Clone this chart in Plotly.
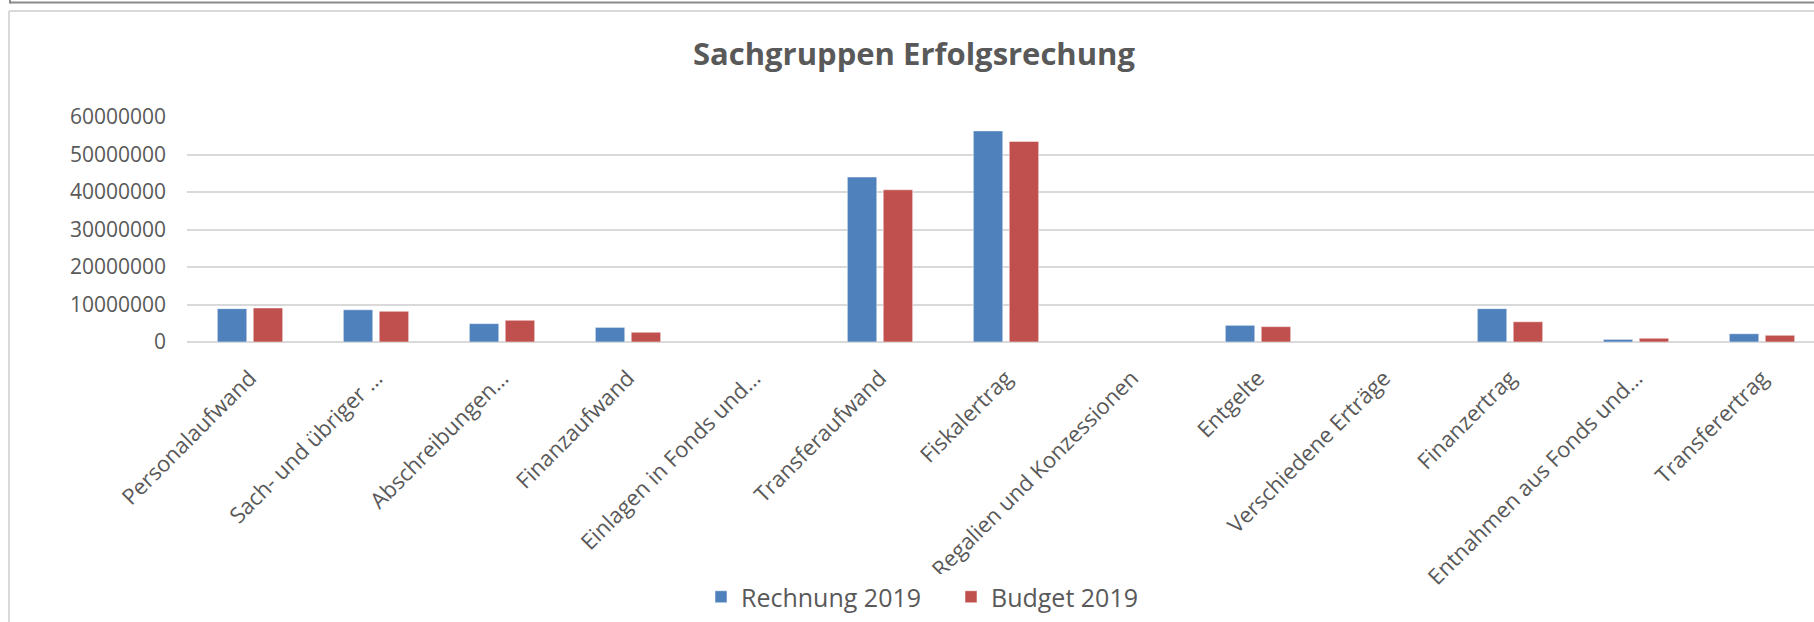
import plotly.graph_objects as go

categories = ["Personalaufwand", "Sach- und übriger …", "Abschreibungen…", "Finanzaufwand",
              "Einlagen in Fonds und…", "Transferaufwand", "Fiskalertrag",
              "Regalien und Konzessionen", "Entgelte", "Verschiedene Erträge",
              "Finanzertrag", "Entnahmen aus Fonds und…", "Transferertrag"]
rechnung_2019 = [8.9e6, 8.6e6, 4.9e6, 3.9e6, None, 44.0e6, 56.3e6, None, 4.45e6, None, 8.9e6, 0.7e6, 2.2e6]
budget_2019 = [9.07e6, 8.2e6, 5.8e6, 2.6e6, None, 40.6e6, 53.5e6, None, 4.1e6, None, 5.4e6, 1.0e6, 1.8e6]
y_ticks = [0, 10000000, 20000000, 30000000, 40000000, 50000000, 60000000]
series_names = ["Rechnung 2019", "Budget 2019"]

W, H = 1814, 622
L, T, B = 187, 117, 280
PW = W - L
PH = H - T - B

def px_x(p):
    return (p - L) / PW

def px_y(p):
    return (H - B - p) / PH

TXT = "#595959"
FONT = "Open Sans"

fig = go.Figure()
fig.add_trace(go.Bar(x=list(range(len(categories))), y=rechnung_2019, name=series_names[0],
                     marker=dict(color="#4F81BD", line=dict(color="rgba(255,255,255,0.5)", width=1))))
fig.add_trace(go.Bar(x=list(range(len(categories))), y=budget_2019, name=series_names[1],
                     marker=dict(color="#C0504D", line=dict(color="rgba(255,255,255,0.5)", width=1))))

cat_w = 126.0
x_max = -0.5 + PW / cat_w

shapes = [
    dict(type="line", xref="paper", yref="paper", x0=px_x(9), x1=px_x(9), y0=px_y(11), y1=px_y(630),
         line=dict(color="#d9d9d9", width=2)),
    dict(type="line", xref="paper", yref="paper", x0=px_x(9), x1=px_x(1820), y0=px_y(11), y1=px_y(11),
         line=dict(color="#d9d9d9", width=2)),
    dict(type="line", xref="paper", yref="paper", x0=px_x(10), x1=px_x(1820), y0=px_y(2.5), y1=px_y(2.5),
         line=dict(color="#8a8a8a", width=2)),
    dict(type="line", xref="paper", yref="paper", x0=px_x(10), x1=px_x(10), y0=px_y(-2), y1=px_y(3.5),
         line=dict(color="#8a8a8a", width=2)),
]

fig.update_layout(
    width=W, height=H,
    margin=dict(l=L, r=0, t=T, b=B, autoexpand=False),
    paper_bgcolor="white", plot_bgcolor="white",
    barmode="group", bargap=0.43, bargroupgap=0.18,
    font=dict(family=FONT, color=TXT),
    title=dict(text="<b>Sachgruppen Erfolgsrechung</b>", x=914 / W, xanchor="center", xref="container",
               y=1 - 54 / H, yanchor="middle", yref="container",
               font=dict(family=FONT, size=31, color=TXT)),
    xaxis=dict(range=[-0.5, x_max], tickmode="array", tickvals=list(range(len(categories))),
               ticktext=categories, tickangle=-45, showgrid=False, showline=False, zeroline=False,
               tickfont=dict(family=FONT, size=22, color=TXT), ticks="", ticklabelstandoff=18),
    yaxis=dict(range=[0, 60000000], tickmode="array", tickvals=y_ticks,
               ticktext=[str(v) for v in y_ticks], showgrid=True, gridcolor="#d9d9d9", gridwidth=1.5,
               zeroline=True, zerolinecolor="#d9d9d9", zerolinewidth=1.5, showline=False, ticks="",
               tickfont=dict(family=FONT, size=21, color=TXT), ticklabelstandoff=20),
    legend=dict(orientation="h", x=px_x(951), xanchor="center", y=px_y(597), yanchor="middle",
                font=dict(family=FONT, size=25, color=TXT), itemwidth=30, traceorder="normal",
                entrywidth=205),
    shapes=shapes,
)

fig.write_html("out.html", config={"displayModeBar": False},
               post_script="document.body.style.margin='0';document.body.style.overflow='hidden';")
